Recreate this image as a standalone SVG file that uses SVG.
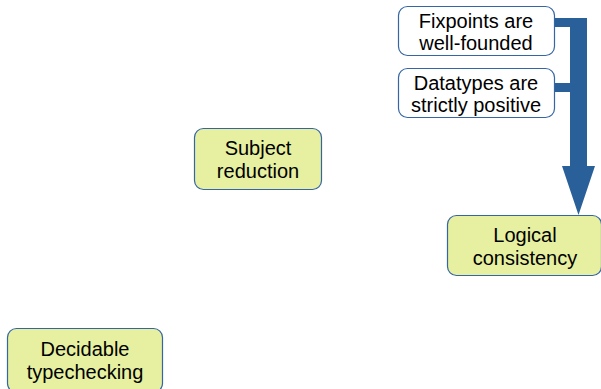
<svg xmlns="http://www.w3.org/2000/svg" width="601" height="389" viewBox="0 0 601 389">
<style>
.n{fill:#e6f0a0;stroke:#3465a4;stroke-width:1.2}
.w{fill:#ffffff;stroke:#3465a4;stroke-width:1.2}
text{font-family:"Liberation Sans",Arial,sans-serif;font-size:20px;fill:#000;text-anchor:middle}
.a{fill:#2a6099}
</style>
<rect width="601" height="389" fill="#ffffff"/>
<g id="connectors">
<path class="a" d="M554,18 H587 V166 H595 L578.5,215 L562,166 H570 V92 H554 V83 H570 V27 H554 Z"/>
</g>
<g id="fixpoints">
<rect class="w" x="398.5" y="6.5" width="156" height="49" rx="9"/>
<text x="476" y="28">Fixpoints are</text>
<text x="476" y="50">well-founded</text>
</g>
<g id="datatypes">
<rect class="w" x="398.5" y="68.5" width="156" height="49" rx="9"/>
<text x="476" y="90">Datatypes are</text>
<text x="476" y="112">strictly positive</text>
</g>
<g id="subject">
<rect class="n" x="194.5" y="128.5" width="127" height="61" rx="9"/>
<text x="258" y="155">Subject</text>
<text x="258" y="178">reduction</text>
</g>
<g id="logical">
<rect class="n" x="447.5" y="215.5" width="154" height="60" rx="9"/>
<text x="525" y="242">Logical</text>
<text x="525" y="265">consistency</text>
</g>
<g id="decidable">
<rect class="n" x="7.5" y="328.5" width="155" height="64" rx="9"/>
<text x="85" y="356">Decidable</text>
<text x="85" y="379">typechecking</text>
</g>
</svg>
